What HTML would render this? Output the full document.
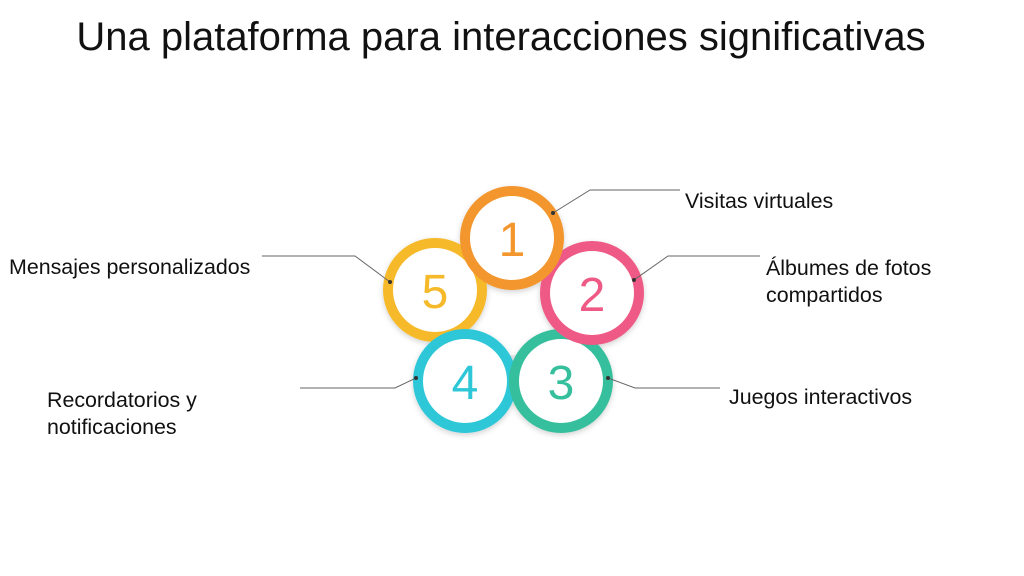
<!DOCTYPE html>
<html><head><meta charset="utf-8"><style>
body{margin:0;width:1024px;height:576px;background:#fff;overflow:hidden;font-family:"Liberation Sans",sans-serif;}
.t{position:absolute;color:#111;font-size:21.4px;line-height:27px;}
</style></head><body>
<div style="position:absolute;left:0;width:1002px;top:15px;text-align:center;font-size:40px;color:#111;">Una plataforma para interacciones significativas</div>
<svg width="1024" height="576" style="position:absolute;left:0;top:0">
<defs><filter id="s" x="-30%" y="-30%" width="160%" height="160%"><feDropShadow dx="0" dy="2" stdDeviation="3" flood-color="#000" flood-opacity="0.18"/></filter></defs>
<circle cx="512" cy="305" r="55" fill="none" stroke="#eee" stroke-width="10"/>
<g filter="url(#s)">
<circle cx="435" cy="290" r="47" fill="#fff" stroke="#f5b92a" stroke-width="10"/>
<circle cx="465" cy="381" r="47" fill="#fff" stroke="#2ec7d8" stroke-width="10"/>
<circle cx="561" cy="381" r="47" fill="#fff" stroke="#35bf9c" stroke-width="10"/>
<circle cx="592" cy="293" r="47" fill="#fff" stroke="#ee5a85" stroke-width="10"/>
<circle cx="512" cy="238" r="47" fill="#fff" stroke="#f3962d" stroke-width="10"/>
</g>
<g font-family="Liberation Sans" font-size="48" text-anchor="middle">
<text x="512" y="256" fill="#f3962d">1</text>
<text x="592" y="311" fill="#ee5a85">2</text>
<text x="561" y="399" fill="#35bf9c">3</text>
<text x="465" y="399" fill="#2ec7d8">4</text>
<text x="435" y="308" fill="#f5b92a">5</text>
</g>
<g stroke="#666" stroke-width="1" fill="none">
<polyline points="553,213 590,190 680,190"/>
<polyline points="634,280 668,256 760,256"/>
<polyline points="608,378 635,388 720,388"/>
<polyline points="416,378 395,388 300,388"/>
<polyline points="390,282 355,256 262,256"/>
</g>
<g fill="#333"><circle cx="553" cy="213" r="2"/><circle cx="634" cy="280" r="2"/><circle cx="608" cy="378" r="2"/><circle cx="416" cy="378" r="2"/><circle cx="390" cy="282" r="2"/></g>
</svg>
<div class="t" style="left:685px;top:188px">Visitas virtuales</div>
<div class="t" style="left:766px;top:255px">Álbumes de fotos<br>compartidos</div>
<div class="t" style="left:729px;top:384px">Juegos interactivos</div>
<div class="t" style="left:47px;top:387px">Recordatorios y<br>notificaciones</div>
<div class="t" style="left:9px;top:254px">Mensajes personalizados</div>
</body></html>
